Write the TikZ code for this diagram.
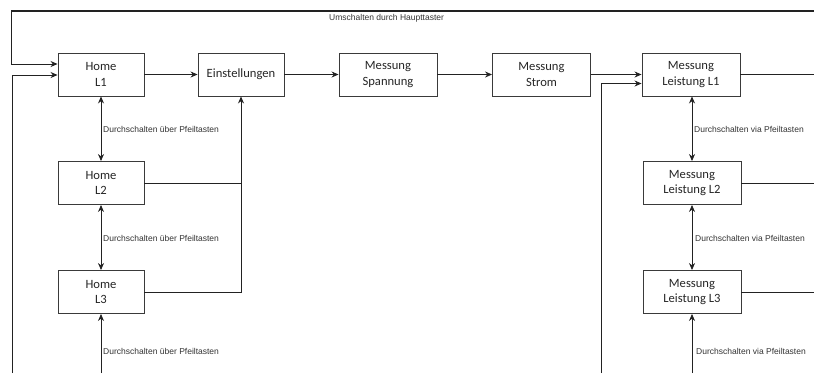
\documentclass[tikz,border=0pt]{standalone}
\usepackage{fontspec}
\setmainfont{Carlito}
\newfontfamily\labelfont{Liberation Sans}
\usetikzlibrary{arrows.meta}
\definecolor{edge}{HTML}{222222}
\definecolor{boxline}{HTML}{3A3A3A}
\tikzset{
  x=1pt, y=-1pt,
  statebox/.style={draw=boxline, line width=0.9pt, fill=white, minimum width=86pt,
    minimum height=43pt, inner sep=0pt, align=center,
    font=\fontsize{12.6}{15.5}\selectfont, text=black!85},
  wide/.style={minimum width=98pt},
  conn/.style={draw=edge, line width=0.8pt},
  arr/.style={conn, -{Stealth[length=7pt,width=6pt]}},
  darr/.style={conn, {Stealth[length=7pt,width=6pt]}-{Stealth[length=7pt,width=6pt]}},
  note/.style={anchor=west, inner sep=0pt, font=\labelfont\fontsize{8.5}{10}\selectfont, text=black!80},
}
\begin{document}
\begin{tikzpicture}
\useasboundingbox (0,0) rectangle (814,373);

% main row
\node[statebox] (h1) at (101,74.5) {Home\\L1};
\node[statebox] (ein) at (241,74.5) {Einstellungen};
\node[statebox, wide] (span) at (388,74.5) {Messung\\Spannung};
\node[statebox, wide] (strom) at (541.5,74.5) {Messung\\Strom};
\node[statebox, wide] (p1) at (691,74.5) {Messung\\Leistung L1};

% home column
\node[statebox] (h2) at (101,183) {Home\\L2};
\node[statebox] (h3) at (101,292) {Home\\L3};

% power column
\node[statebox, wide] (p2) at (692,183) {Messung\\Leistung L2};
\node[statebox, wide] (p3) at (692,292) {Messung\\Leistung L3};

% free ends
\coordinate (topR) at (814,11);
\coordinate (topL) at (11,11);
\coordinate (backL) at (12,373);
\coordinate (backM) at (601,373);
\coordinate (hBot) at (101,373);
\coordinate (pBot) at (692,373);
\coordinate (einBus) at (241,292);
\coordinate (outR1) at (814,74.5);
\coordinate (outR2) at (814,183);
\coordinate (outR3) at (814,292);

% main button loop
\draw[conn, line width=1.5pt] (topR) -- (topL);
\draw[arr] (topL) -- (11,64) -- (h1.west |- 0,64);
\node[note] (tl) at (329,18.5) {Umschalten durch Haupttaster};

\draw[arr] (backL) -- (12,75) -- (h1.west |- 0,75);
\draw[arr] (backM) -- (601,83.5) -- (p1.west |- 0,83.5);

% row chain
\draw[arr] (h1) -- (ein);
\draw[arr] (ein) -- (span);
\draw[arr] (span) -- (strom);
\draw[arr] (strom.east) -- (p1.west |- strom.east);
\draw[conn] (p1.east) -- (outR1);

% home column switching
\draw[darr] (h1.south) -- (h2.north);
\draw[darr] (h2.south) -- (h3.north);
\draw[arr] (hBot) -- (h3.south);
\node[note] (n1) at (103,129.5) {Durchschalten über Pfeiltasten};
\node[note] (n2) at (103,238) {Durchschalten über Pfeiltasten};
\node[note] (n3) at (103,351) {Durchschalten über Pfeiltasten};

% settings reachable from every home page
\draw[conn] (h2.east) -- (ein.south |- h2.east);
\draw[arr] (h3.east) -- (einBus) -- (ein.south);

% power column switching
\draw[darr] (p1.south -| pBot) -- (p2.north -| pBot);
\draw[darr] (p2.south -| pBot) -- (p3.north -| pBot);
\draw[arr] (pBot) -- (p3.south -| pBot);
\node[note] (m1) at (694,129.5) {Durchschalten via Pfeiltasten};
\node[note] (m2) at (695,238) {Durchschalten via Pfeiltasten};
\node[note] (m3) at (696,351) {Durchschalten via Pfeiltasten};

\draw[conn] (p2.east) -- (outR2);
\draw[conn] (p3.east) -- (outR3);
\end{tikzpicture}
\end{document}
